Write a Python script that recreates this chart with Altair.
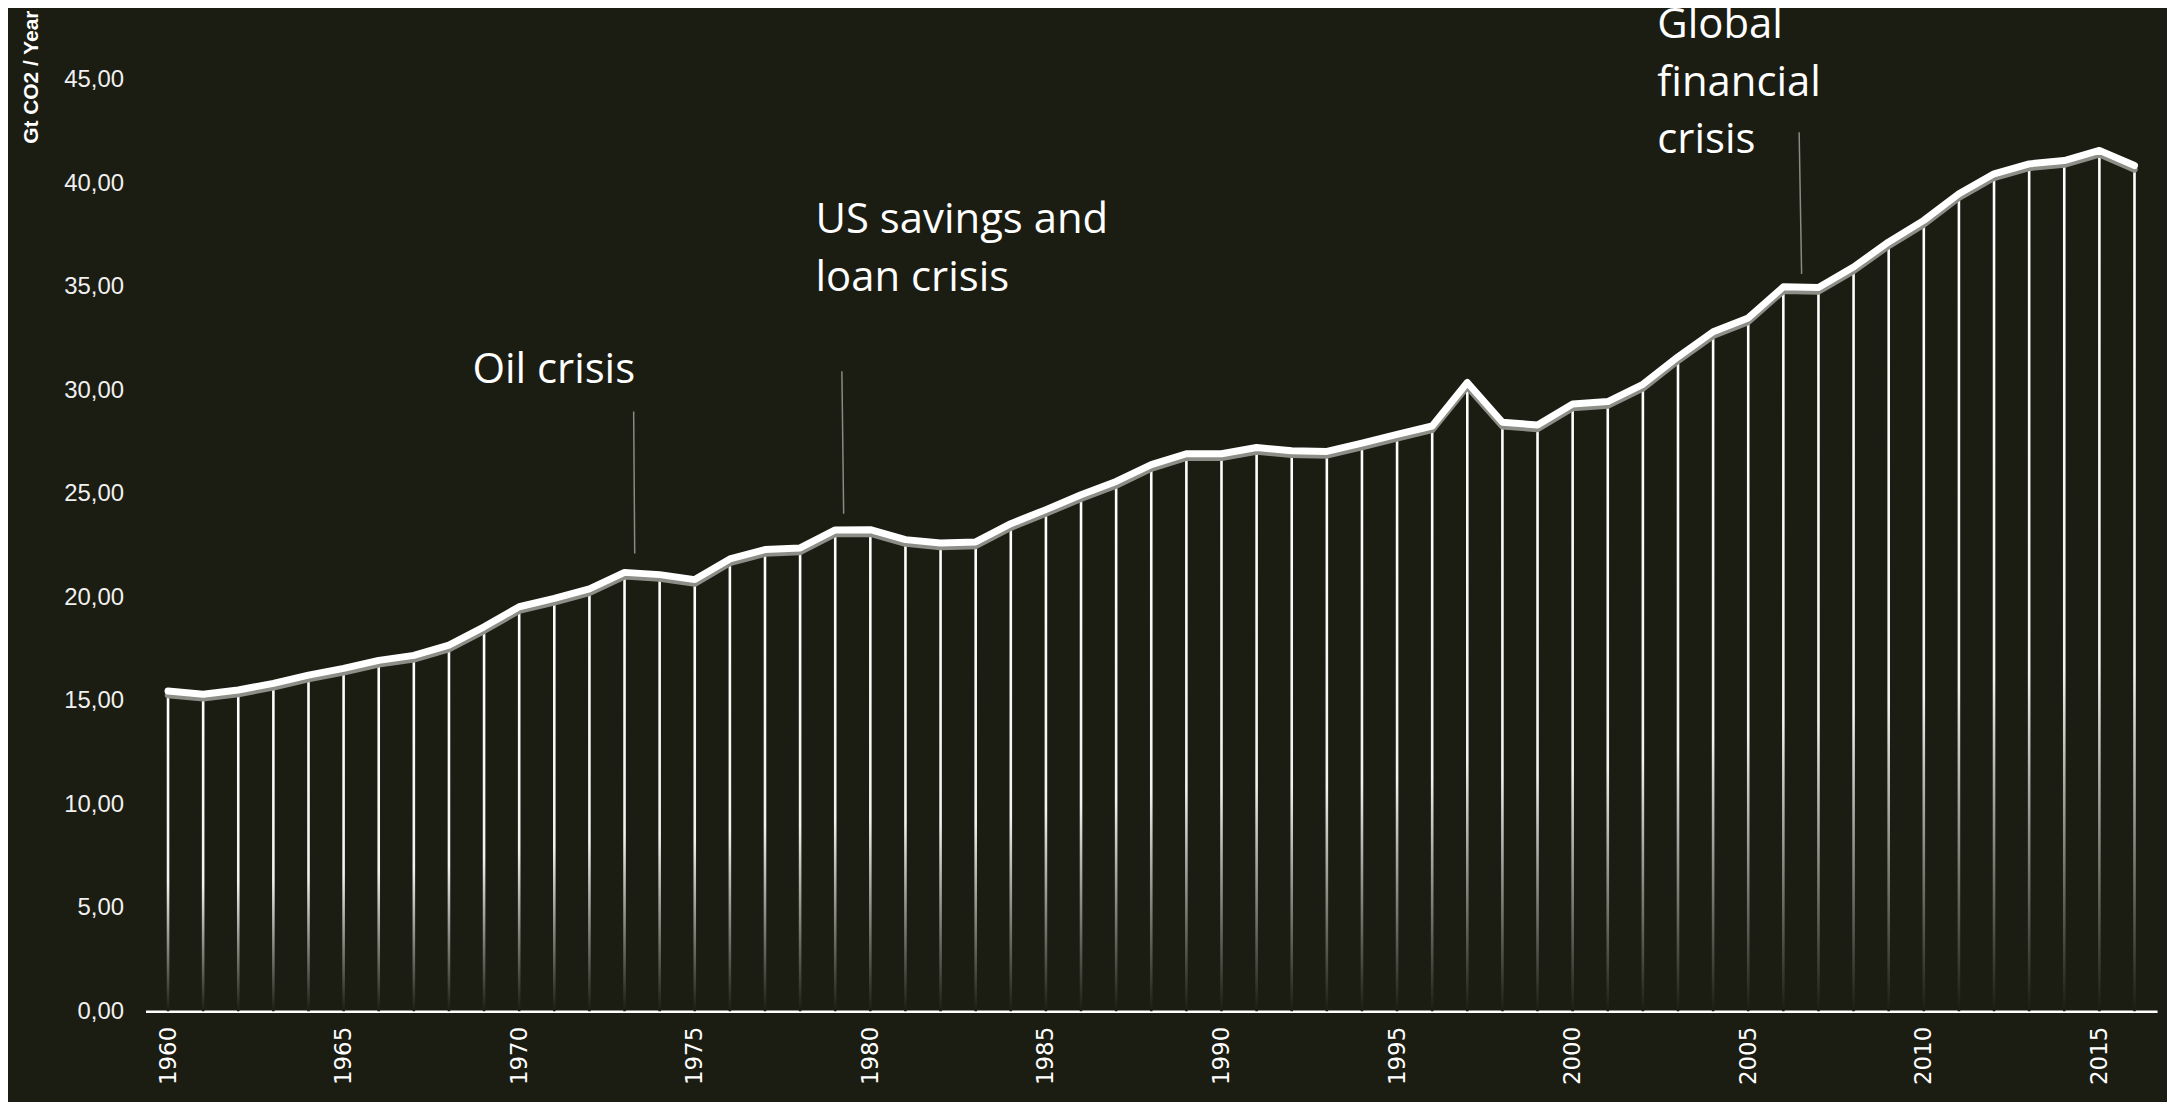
import altair as alt
import pandas as pd

years = list(range(1960, 2017))
emissions = [15.47, 15.31, 15.52, 15.84, 16.24, 16.56, 16.95, 17.19, 17.69, 18.57,
             19.54, 19.94, 20.40, 21.20, 21.09, 20.85, 21.85, 22.30, 22.38, 23.25,
             23.26, 22.78, 22.62, 22.67, 23.55, 24.23, 24.95, 25.59, 26.40, 26.93,
             26.93, 27.23, 27.07, 27.04, 27.44, 27.87, 28.27, 30.37, 28.45, 28.32,
             29.33, 29.45, 30.28, 31.61, 32.82, 33.49, 34.99, 34.96, 35.95, 37.16,
             38.20, 39.49, 40.45, 40.93, 41.09, 41.58, 40.85]

ann_text = ["Oil crisis", "US savings and\nloan crisis", "Global\nfinancial\ncrisis"]
ann_x = [1968.67, 1978.44, 2002.41]
ann_y = [30.37, 37.58, 47.02]

lead_x = [1973.26, 1979.19, 2006.45]
lead_y = [28.97, 30.91, 42.46]
lead_x2 = [1973.29, 1979.24, 2006.52]
lead_y2 = [22.11, 24.03, 35.61]

x_ticks = [1960, 1965, 1970, 1975, 1980, 1985, 1990, 1995, 2000, 2005, 2010, 2015]
y_ticks = [0, 5, 10, 15, 20, 25, 30, 35, 40, 45]

BG = "#1b1c12"

df = pd.DataFrame({"year": years, "value": emissions})
ann = pd.DataFrame({"text": ann_text, "x": ann_x, "y": ann_y})
lead = pd.DataFrame({"x": lead_x, "y": lead_y, "x2": lead_x2, "y2": lead_y2})

xscale = alt.Scale(domain=[1959.5, 2016.5], nice=False, zero=False)
yscale = alt.Scale(domain=[0, 48.36], nice=False)

xaxis = alt.Axis(values=x_ticks, format="d", labelAngle=-90, labelAlign="right",
                 labelBaseline="middle", labelPadding=15, ticks=False, grid=False,
                 domainColor="#ffffff", domainWidth=2.5, labelColor="#ffffff",
                 labelFont="DejaVu Sans", labelFontSize=23, title=None)
yaxis = alt.Axis(values=y_ticks, labelExpr="replace(format(datum.value, '.2f'), '.', ',')",
                 domain=False, ticks=False, grid=False, labelPadding=22,
                 labelColor="#f0f0f0", labelFont="Liberation Sans", labelFontSize=24,
                 title="Gt CO2 / Year", titleFontWeight="bold", titleFontSize=21,
                 titleFont="Liberation Sans", titleColor="#ffffff", titleAnchor="end",
                 titlePadding=22)

grad = alt.Gradient(
    gradient="linear",
    stops=[alt.GradientStop(offset=0, color="#ffffff"),
           alt.GradientStop(offset=0.6, color="#f2f2ee"),
           alt.GradientStop(offset=1, color=BG)],
    x1=0, x2=0, y1=0, y2=1,
)

base = alt.Chart(df)

bars = base.mark_bar(orient="vertical", size=2.6, fill=grad).encode(
    x=alt.X("year:Q", scale=xscale, axis=xaxis),
    y=alt.Y("value:Q", scale=yscale, axis=yaxis),
)

shadow = base.mark_line(color="#8e8e88", strokeWidth=6.5, yOffset=4,
                        strokeCap="round", strokeJoin="round").encode(
    x=alt.X("year:Q", scale=xscale), y=alt.Y("value:Q", scale=yscale))

line = base.mark_line(color="#ffffff", strokeWidth=7,
                      strokeCap="round", strokeJoin="round").encode(
    x=alt.X("year:Q", scale=xscale), y=alt.Y("value:Q", scale=yscale))

leaders = alt.Chart(lead).mark_rule(color="#8a8a84", strokeWidth=1.5).encode(
    x=alt.X("x:Q", scale=xscale), y=alt.Y("y:Q", scale=yscale),
    x2="x2:Q", y2="y2:Q")

labels = alt.Chart(ann).mark_text(align="left", baseline="alphabetic", font="Open Sans",
                                  fontSize=42, color="#ffffff", lineBreak="\n",
                                  lineHeight=58).encode(
    x=alt.X("x:Q", scale=xscale), y=alt.Y("y:Q", scale=yscale), text="text:N")

chart = alt.layer(bars, shadow, line, leaders, labels).properties(
    width=2019, height=1005,
    background=BG,
    autosize=alt.AutoSizeParams(type="none"),
    padding={"left": 138, "top": 0, "right": 10, "bottom": 90},
).configure_view(stroke=None)

chart.save("out.html", embed_options={"renderer": "svg", "actions": False})
